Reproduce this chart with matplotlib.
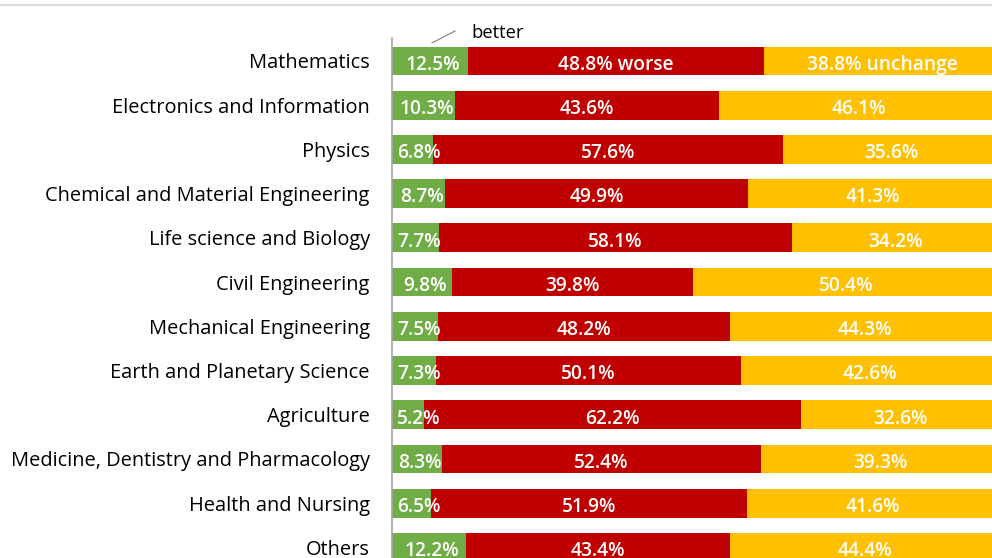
import matplotlib.pyplot as plt
import numpy as np

categories = ['Mathematics', 'Electronics and Information', 'Physics',
              'Chemical and Material Engineering', 'Life science and Biology',
              'Civil Engineering', 'Mechanical Engineering',
              'Earth and Planetary Science', 'Agriculture',
              'Medicine, Dentistry and Pharmacology', 'Health and Nursing', 'Others']
better = [12.5, 10.3, 6.8, 8.7, 7.7, 9.8, 7.5, 7.3, 5.2, 8.3, 6.5, 12.2]
worse = [48.8, 43.6, 57.6, 49.9, 58.1, 39.8, 48.2, 50.1, 62.2, 52.4, 51.9, 43.4]
unchange = [38.8, 46.1, 35.6, 41.3, 34.2, 50.4, 44.3, 42.6, 32.6, 39.3, 41.6, 44.4]

plt.rcParams['font.family'] = ['Open Sans', 'DejaVu Sans']

fig = plt.figure(figsize=(9.92, 5.58), dpi=100)
ax = fig.add_axes([392 / 992, 0, 1 - 392 / 992, 1 - 38 / 558])

y = np.arange(len(categories))
better = np.array(better)
worse = np.array(worse)
unchange = np.array(unchange)

h = 0.65
ax.barh(y, better, height=h, color='#70AD47')
ax.barh(y, worse, left=better, height=h, color='#C00000')
ax.barh(y, unchange, left=better + worse, height=h, color='#FFC000')

lbl = dict(color='white', fontsize=13.8, fontweight='semibold', ha='center', va='center_baseline')
for i in y:
    g = f'{better[i]}%'
    r = f'{worse[i]}%' + (' worse' if i == 0 else '')
    u = f'{unchange[i]}%' + (' unchange' if i == 0 else '')
    # narrow green segments: label pushed right so it doesn't hit the axis
    ax.text(max(better[i] / 2 + 0.5, 4.4), i + 0.03, g, **lbl)
    ax.text(better[i] + worse[i] / 2, i + 0.03, r, **lbl)
    ax.text(better[i] + worse[i] + unchange[i] / 2, i + 0.03, u, **lbl)

ax.set_xlim(0, 98.8)
ax.set_ylim(11.24, -0.52)
ax.set_yticks(y)
ax.set_yticklabels(categories, fontsize=14.4)
ax.tick_params(axis='y', length=0, pad=16)
ax.set_xticks([])
for s in ['top', 'right', 'bottom']:
    ax.spines[s].set_visible(False)
ax.spines['left'].set_color('#A6A6A6')
ax.spines['left'].set_linewidth(1.2)

# callout for the "better" segment
ax.plot([6.6, 10.4], [-0.41, -0.68], color='#7F7F7F', lw=0.8, clip_on=False)
ax.text(13.0, -0.68, 'better', fontsize=13.2, va='center_baseline', ha='left', clip_on=False)

# thin frame line at top
fig.add_artist(plt.Line2D([0, 1], [1 - 5 / 558, 1 - 5 / 558], color='#D9D9D9', lw=1.5))

fig.savefig('out.png', dpi=100)
